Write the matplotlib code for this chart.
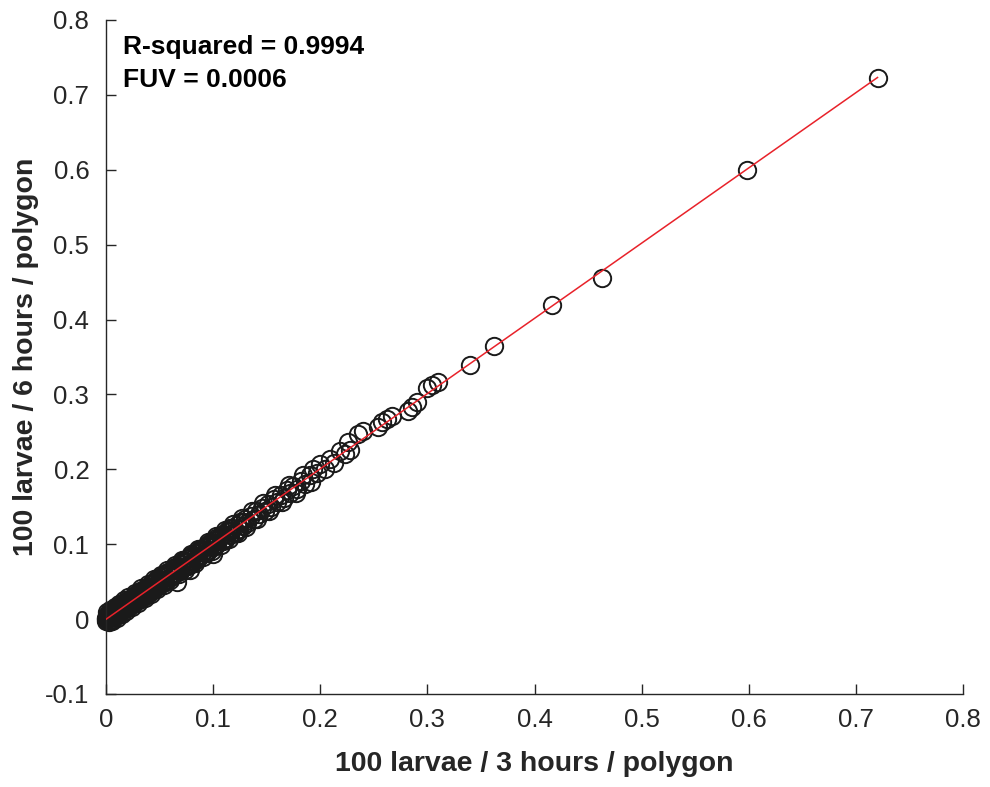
import matplotlib
matplotlib.use("Agg")
import matplotlib.pyplot as plt
import numpy as np

# datos (100 larvas / 3 horas vs 6 horas por poligono)
x_3h = [0.000, 0.000, 0.001, 0.002, 0.003, 0.004, 0.005, 0.006, 0.007, 0.008,
        0.009, 0.010, 0.011, 0.012, 0.013, 0.014, 0.015, 0.016, 0.018, 0.019,
        0.020, 0.022, 0.023, 0.025, 0.026, 0.028, 0.029, 0.031, 0.032, 0.034,
        0.035, 0.037, 0.038, 0.040, 0.041, 0.043, 0.044, 0.046, 0.047, 0.049,
        0.050, 0.052, 0.054, 0.055, 0.057, 0.058, 0.060, 0.062, 0.063, 0.065,
        0.066, 0.067, 0.068, 0.070, 0.072, 0.073, 0.075, 0.077, 0.078, 0.080,
        0.082, 0.084, 0.085, 0.087, 0.089, 0.090, 0.092, 0.094, 0.096, 0.098,
        0.100, 0.100, 0.102, 0.104, 0.106, 0.108, 0.110, 0.112, 0.114, 0.116,
        0.118, 0.120, 0.122, 0.124, 0.126, 0.128, 0.130,
        0.132, 0.135, 0.138, 0.140, 0.143, 0.146, 0.148, 0.151, 0.154, 0.157,
        0.160, 0.163, 0.166, 0.169, 0.172, 0.175, 0.178, 0.182, 0.186, 0.190,
        0.193, 0.197, 0.200, 0.204, 0.209, 0.213, 0.218, 0.223, 0.226, 0.228,
        0.235, 0.240, 0.254, 0.258, 0.262, 0.267, 0.282, 0.286, 0.290,
        0.300, 0.304, 0.310, 0.340, 0.362, 0.416, 0.463, 0.598, 0.720]
y_6h = [0.000, 0.002, 0.000, 0.004, 0.001, 0.006, 0.003, 0.004, 0.010, 0.005,
        0.012, 0.007, 0.014, 0.009, 0.016, 0.011, 0.018, 0.013, 0.021, 0.015,
        0.024, 0.019, 0.027, 0.021, 0.030, 0.024, 0.033, 0.027, 0.036, 0.030,
        0.039, 0.033, 0.042, 0.036, 0.045, 0.039, 0.048, 0.042, 0.051, 0.045,
        0.054, 0.048, 0.058, 0.051, 0.061, 0.054, 0.064, 0.058, 0.067, 0.061,
        0.050, 0.071, 0.064, 0.074, 0.068, 0.077, 0.071, 0.081, 0.065, 0.084,
        0.078, 0.088, 0.081, 0.091, 0.085, 0.094, 0.088, 0.098, 0.092, 0.102,
        0.087, 0.096, 0.106, 0.100, 0.110, 0.104, 0.114, 0.108, 0.118, 0.112,
        0.122, 0.116, 0.126, 0.120, 0.130, 0.124, 0.133,
        0.128, 0.138, 0.134, 0.144, 0.140, 0.149, 0.145, 0.154, 0.150, 0.160,
        0.156, 0.166, 0.162, 0.172, 0.168, 0.178, 0.174, 0.184, 0.181, 0.192,
        0.200, 0.195, 0.207, 0.201, 0.214, 0.209, 0.224, 0.220, 0.236, 0.226,
        0.247, 0.251, 0.256, 0.263, 0.267, 0.271, 0.278, 0.283, 0.290,
        0.308, 0.312, 0.316, 0.339, 0.364, 0.420, 0.455, 0.600, 0.722]

# puntos extra de la zona densa (banda negra cerca del origen)
x_3h_densa = [0.001, 0.003, 0.004, 0.006, 0.008, 0.010, 0.012, 0.015, 0.017, 0.019,
              0.021, 0.024, 0.027, 0.030, 0.033, 0.036, 0.039, 0.042, 0.045, 0.048,
              0.051, 0.054, 0.057, 0.060, 0.064, 0.068, 0.071, 0.074, 0.079, 0.083,
              0.086, 0.091, 0.095, 0.099, 0.103, 0.107, 0.111, 0.115, 0.119, 0.123,
              0.127, 0.131, 0.136, 0.141, 0.147, 0.152, 0.158, 0.164, 0.171, 0.177,
              0.184, 0.191]
y_6h_densa = [0.009, -0.004, 0.012, -0.002, 0.016, 0.002, 0.020, 0.007, 0.025, 0.011,
              0.029, 0.016, 0.035, 0.022, 0.041, 0.028, 0.047, 0.034, 0.053, 0.040,
              0.059, 0.046, 0.065, 0.052, 0.072, 0.060, 0.079, 0.066, 0.087, 0.075,
              0.094, 0.083, 0.103, 0.091, 0.111, 0.099, 0.119, 0.107, 0.127, 0.115,
              0.135, 0.123, 0.144, 0.133, 0.155, 0.144, 0.166, 0.156, 0.179, 0.169,
              0.192, 0.183]

x_3h_nucleo = [0.002, 0.004, 0.005, 0.007, 0.009, 0.011, 0.013, 0.014, 0.016, 0.018,
               0.020, 0.021, 0.023, 0.025, 0.027, 0.028, 0.030, 0.032, 0.034, 0.035,
               0.037, 0.039, 0.041, 0.042, 0.044, 0.046, 0.048, 0.050, 0.053, 0.056,
               0.059, 0.061, 0.064, 0.067, 0.069, 0.072, 0.076, 0.079, 0.081, 0.083,
               0.086, 0.088, 0.091, 0.093, 0.095, 0.097, 0.101, 0.103, 0.105, 0.109,
               0.113, 0.117, 0.121, 0.125, 0.129]
y_6h_nucleo = [0.002, -0.001, 0.010, 0.007, 0.004, 0.016, 0.013, 0.009, 0.021, 0.018,
               0.015, 0.026, 0.023, 0.020, 0.032, 0.028, 0.025, 0.037, 0.034, 0.030,
               0.042, 0.039, 0.036, 0.047, 0.044, 0.041, 0.053, 0.050, 0.048, 0.061,
               0.059, 0.056, 0.069, 0.067, 0.064, 0.077, 0.076, 0.074, 0.086, 0.083,
               0.081, 0.093, 0.091, 0.088, 0.100, 0.097, 0.101, 0.108, 0.105, 0.104,
               0.118, 0.117, 0.116, 0.130, 0.129]

x_3h_relleno = [0.000, 0.001, 0.003, 0.005, 0.006, 0.008, 0.010, 0.012, 0.014, 0.017,
                0.019, 0.022, 0.024, 0.026, 0.029, 0.031, 0.033, 0.036, 0.038, 0.040,
                0.043, 0.045, 0.047, 0.049, 0.052, 0.055, 0.058, 0.062, 0.065, 0.069,
                0.073, 0.077, 0.080, 0.084, 0.089, 0.093, 0.098, 0.102, 0.107, 0.111,
                0.116, 0.120]
y_6h_relleno = [-0.003, 0.006, 0.008, -0.001, 0.011, 0.004, 0.014, 0.008, 0.018, 0.013,
                0.023, 0.017, 0.028, 0.021, 0.033, 0.026, 0.038, 0.031, 0.043, 0.035,
                0.048, 0.040, 0.052, 0.044, 0.057, 0.050, 0.063, 0.057, 0.070, 0.064,
                0.078, 0.071, 0.085, 0.079, 0.094, 0.088, 0.103, 0.097, 0.112, 0.106,
                0.121, 0.115]

r2_txt = "R-squared = 0.9994"
fuv_txt = "FUV = 0.0006"
x_label = "100 larvae / 3 hours / polygon"
y_label = "100 larvae / 6 hours / polygon"

plt.rcParams["font.family"] = ["Liberation Sans", "DejaVu Sans"]
gris = "#262626"

fig = plt.figure(figsize=(9.9, 7.87), dpi=100)
ax = fig.add_axes([0.107, 0.1182, 0.866, 0.8564])

x = np.array(x_3h + x_3h_densa + x_3h_nucleo + x_3h_relleno)
y = np.array(y_6h + y_6h_densa + y_6h_nucleo + y_6h_relleno)
ax.plot(x, y, "o", mfc="none", mec="#1a1a1a", mew=1.4, ms=12.5, zorder=2,
        clip_on=False)

# recta ajustada
coef = np.polyfit(x, y, 1)
xs = np.array([x.min(), x.max()])
ax.plot(xs, np.polyval(coef, xs), color="#e8222a", lw=1.1, zorder=3)

ax.set_xlim(0, 0.8)
ax.set_ylim(-0.1, 0.8)
ax.set_xticks(np.arange(0, 0.81, 0.1))
ax.set_yticks(np.arange(-0.1, 0.81, 0.1))
ax.set_xticklabels(["0", "0.1", "0.2", "0.3", "0.4", "0.5", "0.6", "0.7", "0.8"])
ax.set_yticklabels(["-0.1", "0", "0.1", "0.2", "0.3", "0.4", "0.5", "0.6", "0.7", "0.8"])

for s in ["top", "right"]:
    ax.spines[s].set_visible(False)
for s in ["left", "bottom"]:
    ax.spines[s].set_color(gris)
    ax.spines[s].set_linewidth(1.0)
ax.tick_params(direction="in", length=7, width=1.0, color=gris,
               labelcolor=gris, labelsize=18.5)
ax.tick_params(axis="y", pad=12)
ax.tick_params(axis="x", pad=10)

ax.set_xlabel(x_label, fontsize=20.5, fontweight="bold", color=gris, labelpad=14)
ax.set_ylabel(y_label, fontsize=20.5, fontweight="bold", color=gris, labelpad=4)

ax.text(0.02, 0.978, r2_txt + "\n" + fuv_txt, transform=ax.transAxes,
        fontsize=19, fontweight="bold", va="top", ha="left", linespacing=1.5)

fig.savefig("out.png", dpi=100)
